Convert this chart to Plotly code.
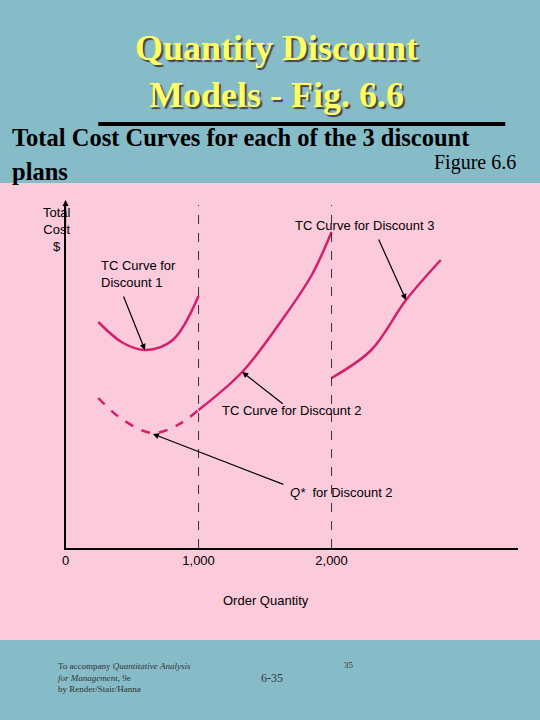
import plotly.graph_objects as go

# data (x = order quantity, y = total cost in arbitrary units)
d1_q = [246, 433, 604, 806, 1000]
d1_tc = [2.26, 2.05, 1.98, 2.08, 2.52]
d2_dash_q = [246, 433, 657, 843, 1000]
d2_dash_tc = [1.50, 1.28, 1.15, 1.23, 1.38]
d2_q = [1000, 1328, 1627, 1851, 2000]
d2_tc = [1.38, 1.76, 2.28, 2.73, 3.16]
d3_q = [2000, 2299, 2560, 2821]
d3_tc = [1.70, 1.98, 2.48, 2.88]
breaks = [1000, 2000]
tick_vals = [0, 1000, 2000]
tick_text = ["0", "1,000", "2,000"]

W, H = 540, 720
col = "#d4206c"

def py(p):
    return 1 - p / H

fig = go.Figure()
line = dict(color=col, width=2.5, shape="spline")
fig.add_trace(go.Scatter(x=d1_q, y=d1_tc, mode="lines", line=line))
fig.add_trace(go.Scatter(x=d2_dash_q, y=d2_dash_tc, mode="lines", line=dict(line, dash="dash")))
fig.add_trace(go.Scatter(x=d2_q, y=d2_tc, mode="lines", line=line))
fig.add_trace(go.Scatter(x=d3_q, y=d3_tc, mode="lines", line=line))

shapes = [
    dict(type="rect", xref="paper", yref="paper", x0=-0.02, x1=1.02, y0=py(640), y1=py(183),
         fillcolor="#fbcadb", line_width=0, layer="below"),
    dict(type="line", xref="paper", yref="paper", x0=95 / W, x1=505 / W, y0=py(124), y1=py(124),
         line=dict(color="black", width=4)),
]
for b in breaks:
    shapes.append(dict(type="line", x0=b, x1=b, y0=0, y1=3.48,
                       line=dict(color="#333", width=1, dash="dash")))
fig.update_layout(shapes=shapes)

A = []
def txt(x, y, t, size, **kw):
    d = dict(xref="paper", yref="paper", x=x / W, y=py(y), text=t, showarrow=False,
             yanchor="middle",
             font=dict(size=size, color=kw.pop("color", "black"), family=kw.pop("family", "Arial")))
    d.update(kw)
    A.append(d)

ttl = "Times New Roman, Liberation Serif, serif"
A.append(dict(xref="paper", yref="paper", x=275 / W, y=py(72), yanchor="middle", showarrow=False,
              text="<b>Quantity Discount<br>Models - Fig. 6.6</b>",
              font=dict(size=36, color="#ffff66", family=ttl, shadow="2px 2px 1px #444")))
txt(6, 137, "<b>Total Cost Curves for each of the 3 discount</b>", 24.5, family=ttl, xanchor="left")
txt(6, 171, "<b>plans</b>", 24.5, family=ttl, xanchor="left")
txt(518, 163, "Figure 6.6", 20, family=ttl, xanchor="right")
txt(37, 230, "Total<br>Cost<br>$", 13)
txt(264, 600, "Order Quantity", 13)
txt(96, 274, "TC Curve for<br>Discount 1", 13, xanchor="left", align="left")
txt(435, 225, "TC Curve for Discount 3", 13)
txt(362, 410, "TC Curve for Discount 2", 13)
txt(340, 492, "<i>Q*</i>  for Discount 2", 13)
txt(52, 677, "To accompany <i>Quantitative Analysis<br>for Management</i>, 9e<br>by Render/Stair/Hanna",
    9, family=ttl, xanchor="left", align="left", color="#333")
txt(270, 678, "6-35", 12, family=ttl, color="#333")
txt(348, 665, "35", 9, family=ttl, color="#333")

arrows = [((142, 350), (120, 295)), ((405, 300), (377, 238)), ((240, 372), (282, 405)),
          ((150, 434), (282, 485)), ((62, 200), (62, 230))]
for (hx, hy), (tx, ty) in arrows:
    A.append(dict(xref="paper", yref="paper", x=hx / W, y=py(hy), ax=tx - hx, ay=ty - hy,
                  text="", showarrow=True, arrowhead=2,
                  arrowsize=1, arrowwidth=1.2, arrowcolor="black"))
fig.update_layout(annotations=A)

fig.update_layout(
    width=W, height=H, margin=dict(l=0, r=0, t=0, b=0), showlegend=False,
    paper_bgcolor="#86bcc8", plot_bgcolor="rgba(0,0,0,0)",
    xaxis=dict(domain=[62 / W, 518 / W], range=[0, 3403], tickvals=tick_vals, ticktext=tick_text,
               showgrid=False, zeroline=False, showline=True, linecolor="black", linewidth=1.5,
               ticks="", tickfont=dict(family="Arial", size=13, color="black")),
    yaxis=dict(domain=[py(548), py(205)], range=[0, 3.43], showticklabels=False, showgrid=False,
               zeroline=False, showline=True, linecolor="black", linewidth=1.5, ticks=""),
)
fig.write_html("out.html", config={"displayModeBar": False},
               post_script="document.body.style.margin='0';")
